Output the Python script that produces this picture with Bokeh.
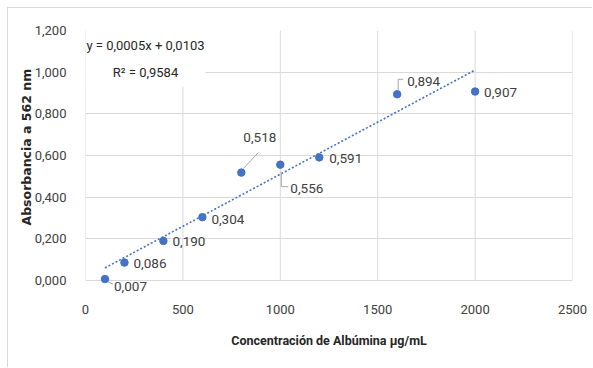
from bokeh.plotting import figure
from bokeh.models import Range1d, FixedTicker, BoxAnnotation, Label, ColumnDataSource, Title
from bokeh.core.properties import value
from bokeh.embed import file_html
from bokeh.resources import INLINE

# Albumin standard curve (BCA assay)
concentration = [100, 200, 400, 600, 800, 1000, 1200, 1600, 2000]
absorbance = [0.007, 0.086, 0.190, 0.304, 0.518, 0.556, 0.591, 0.894, 0.907]

# Linear trendline as reported in the equation label
slope = 0.0005
intercept = 0.0103
r_squared = 0.9584

x_ticks = [0, 500, 1000, 1500, 2000, 2500]
y_tick_labels = ["0,000", "0,200", "0,400", "0,600", "0,800", "1,000", "1,200"]
y_ticks = [float(s.replace(",", ".")) for s in y_tick_labels]

FONT = "Roboto"
BLUE = "#4472C4"
GRID = "#d9d9d9"
TEXT = "#404040"

W, H = 585, 360
LEFT, RIGHT, TOP, BOTTOM = 77, 21, 22, 73
X_END, Y_END = 2500, 1.2
Y_START = -0.072  # room below zero for the lowest data label

p = figure(width=W, height=H, output_backend="svg", toolbar_location=None,
           x_range=Range1d(0, X_END), y_range=Range1d(Y_START, Y_END),
           min_border_left=LEFT, min_border_right=RIGHT,
           min_border_top=TOP, min_border_bottom=BOTTOM,
           margin=(7, 0, 0, 7),
           styles={"border-left": f"1px solid {GRID}", "border-top": f"1px solid {GRID}"})
p.outline_line_color = None
p.background_fill_color = "white"
p.border_fill_color = "white"

# pixel -> data conversion for small screen offsets
px_x = X_END / (W - LEFT - RIGHT)
px_y = (Y_END - Y_START) / (H - TOP - BOTTOM)

p.xaxis.ticker = FixedTicker(ticks=x_ticks)
p.yaxis.ticker = FixedTicker(ticks=y_ticks)
p.yaxis.major_label_overrides = {t: s for t, s in zip(y_ticks, y_tick_labels)}
p.xaxis.major_label_overrides = {t: str(t) for t in x_ticks}

for ax in (p.xaxis[0], p.yaxis[0]):
    ax.axis_line_color = None
    ax.major_tick_line_color = None
    ax.minor_tick_line_color = None
    ax.major_label_text_font = FONT
    ax.major_label_text_font_size = "13px"
    ax.major_label_text_color = TEXT

p.xaxis.major_label_standoff = 3
p.yaxis.major_label_standoff = 13

p.xaxis.axis_label = "Concentración de Albúmina µg/mL"
p.xaxis.axis_label_text_font = FONT
p.xaxis.axis_label_text_font_style = "bold"
p.xaxis.axis_label_text_font_size = "12.5px"
p.xaxis.axis_label_text_color = "#262626"
p.xaxis.axis_label_standoff = 16

# vertical axis title, starting a little above the zero line
p.add_layout(Title(text="Absorbancia a 562 nm", align="left", offset=70,
                   text_font="DejaVu Sans", text_font_style="bold",
                   text_font_size="12.5px", text_color="#262626", standoff=-5), "left")

# horizontal grid from the axis ticker; vertical grid drawn only above zero
p.xgrid.grid_line_color = None
p.ygrid.grid_line_color = GRID
p.ygrid.grid_line_width = 1
p.segment(x0=x_ticks, y0=[0] * len(x_ticks), x1=x_ticks, y1=[Y_END] * len(x_ticks),
          line_color=GRID, line_width=1)

# trendline over the measured range
x0, x1 = min(concentration), max(concentration)
p.line([x0, x1], [slope * x0 + intercept, slope * x1 + intercept],
       line_color=BLUE, line_width=1.6, line_dash="2 2")

p.scatter(concentration, absorbance, size=7.5, color=BLUE)

# equation box (white background hides the grid behind it)
p.add_layout(BoxAnnotation(left=0, right=120 * px_x, top=Y_END, bottom=Y_END - 56 * px_y,
                           fill_color="white", fill_alpha=1, line_color=None))
eq_lines = [f"y = {slope:.4f}x + {intercept:.4f}".replace(".", ","),
            f"R² = {r_squared:.4f}".replace(".", ",")]
for i, t in enumerate(eq_lines):
    p.add_layout(Label(x=60 * px_x, y=Y_END - (15 + 27 * i) * px_y, text=t,
                       text_align="center", text_baseline="middle",
                       text_font=FONT, text_font_size="13px",
                       text_color="#262626"))

# data labels: pixel offsets (right, up) from each point
label_dx = [9, 9, 9, 9, 2, 10, 10, 10, 9]
label_dy = [-7, -1, -1, -2, 35, -24, -1, 13, -1]
src = ColumnDataSource(dict(
    x=[c + dx * px_x for c, dx in zip(concentration, label_dx)],
    y=[a + dy * px_y for a, dy in zip(absorbance, label_dy)],
    text=[f"{a:.3f}".replace(".", ",") for a in absorbance]))
p.text("x", "y", text="text", source=src, text_align="left", text_baseline="middle",
       text_font=value(FONT), text_font_size="13.5px", text_color=TEXT)

# leader lines (pixel offsets from their points)
leaders = {
    0: [(3, -3), (8, -5)],
    4: [(2, 4), (17, 20)],
    5: [(1, -7), (1, -22), (8, -22)],
    7: [(1, 4), (1, 15), (6, 15)],
}
xs, ys = [], []
for i, pts in leaders.items():
    xs.append([concentration[i] + dx * px_x for dx, _ in pts])
    ys.append([absorbance[i] + dy * px_y for _, dy in pts])
p.multi_line(xs, ys, line_color="#a6a6a6", line_width=1)

open("out.html", "w").write(file_html(p, INLINE))
